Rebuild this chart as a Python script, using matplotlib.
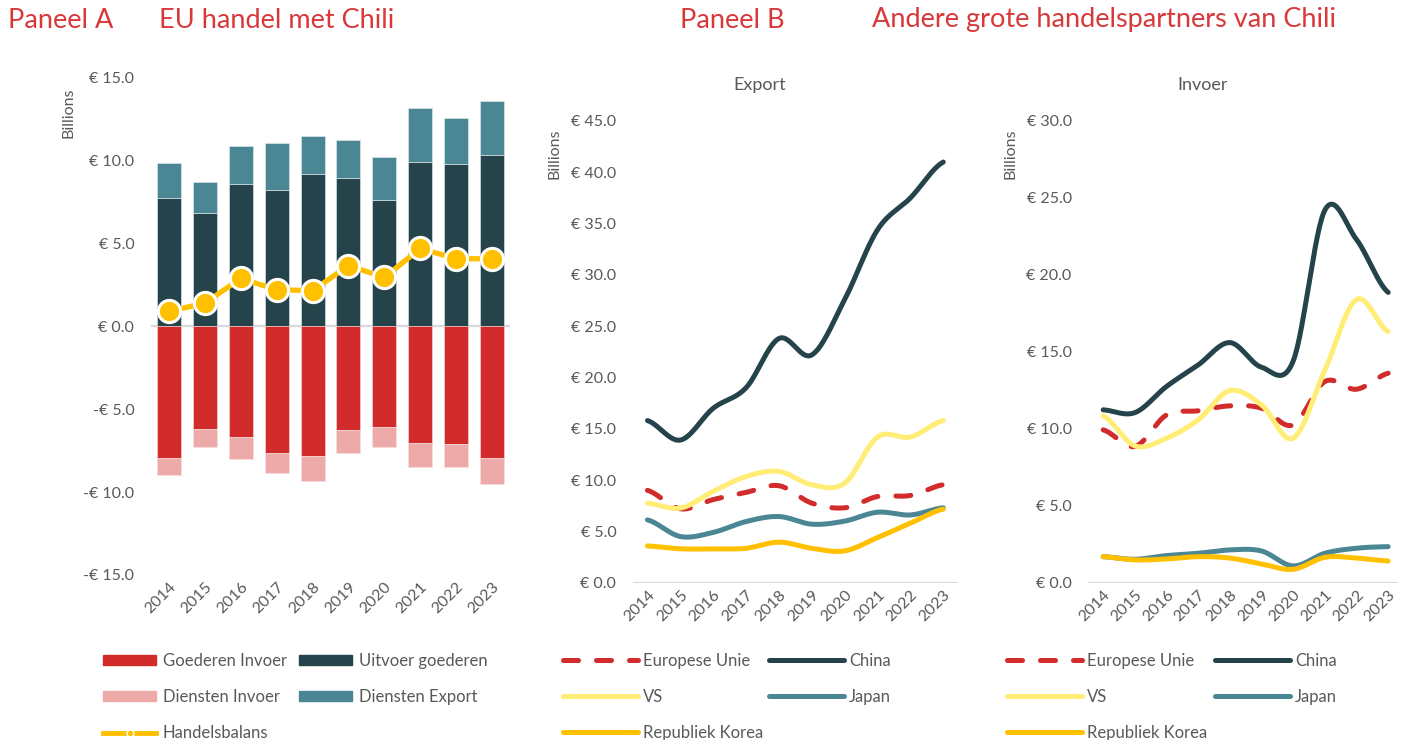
import numpy as np
import matplotlib
matplotlib.use("Agg")
import matplotlib.pyplot as plt
from matplotlib.patches import Patch
from matplotlib.lines import Line2D
from matplotlib.ticker import FuncFormatter, MultipleLocator

plt.rcParams['font.family'] = ['Lato', 'DejaVu Sans']

years = ['2014', '2015', '2016', '2017', '2018', '2019', '2020', '2021', '2022', '2023']

# Paneel A (miljarden euro)
goederen_uitvoer = [7.75, 6.83, 8.58, 8.21, 9.18, 8.94, 7.61, 9.90, 9.78, 10.33]
diensten_export = [2.12, 1.87, 2.33, 2.86, 2.29, 2.33, 2.62, 3.31, 2.78, 3.28]
goederen_invoer = [-7.93, -6.18, -6.70, -7.63, -7.81, -6.24, -6.06, -7.03, -7.07, -7.93]
diensten_invoer = [-1.01, -1.07, -1.31, -1.23, -1.53, -1.37, -1.23, -1.47, -1.39, -1.57]
handelsbalans = [0.91, 1.41, 2.90, 2.22, 2.16, 3.68, 2.96, 4.71, 4.09, 4.09]

# Paneel B export
exp_eu = [9.0, 7.2, 8.1, 8.8, 9.45, 7.75, 7.3, 8.4, 8.5, 9.55]
exp_china = [15.8, 13.9, 17.0, 19.0, 23.8, 22.2, 27.6, 34.4, 37.5, 41.0]
exp_vs = [7.75, 7.27, 8.9, 10.35, 10.84, 9.54, 9.7, 14.2, 14.2, 15.8]
exp_japan = [6.12, 4.5, 4.9, 5.96, 6.45, 5.7, 6.0, 6.87, 6.6, 7.3]
exp_korea = [3.58, 3.3, 3.3, 3.35, 3.95, 3.35, 3.1, 4.4, 5.8, 7.17]

# Paneel B invoer
inv_eu = [9.93, 8.85, 10.9, 11.17, 11.49, 11.34, 10.25, 13.07, 12.57, 13.61]
inv_china = [11.23, 11.05, 12.75, 14.15, 15.6, 14.0, 14.4, 24.2, 22.3, 18.86]
inv_vs = [10.84, 8.89, 9.39, 10.58, 12.48, 11.55, 9.39, 13.8, 18.4, 16.32]
inv_japan = [1.69, 1.52, 1.76, 1.91, 2.13, 2.06, 1.09, 1.91, 2.24, 2.34]
inv_korea = [1.69, 1.48, 1.54, 1.69, 1.6, 1.22, 0.87, 1.65, 1.6, 1.41]

RED = '#D22B2B'
PINK = '#EEA9A9'
DARK = '#25434A'
TEAL = '#4A8694'
YELLOW = '#FFED75'
GOLD = '#FFC000'
GREY = '#595959'
TITLE_RED = '#D9383A'


def smooth(y, n=30):
    # Excel-achtige smoothing (Catmull-Rom)
    y = np.asarray(y, dtype=float)
    pts = np.concatenate([[y[0]], y, [y[-1]]])
    xs, ys = [], []
    t = np.linspace(0, 1, n, endpoint=False)
    for i in range(len(y) - 1):
        p0, p1, p2, p3 = pts[i], pts[i + 1], pts[i + 2], pts[i + 3]
        c1 = p1 + (p2 - p0) / 6
        c2 = p2 - (p3 - p1) / 6
        yy = (1 - t)**3 * p1 + 3 * (1 - t)**2 * t * c1 + 3 * (1 - t) * t**2 * c2 + t**3 * p2
        xs.extend(i + t)
        ys.extend(yy)
    xs.append(len(y) - 1)
    ys.append(y[-1])
    return np.array(xs), np.array(ys)


def euro(v, pos):
    if v < 0:
        return f"-€ {abs(v):.1f}"
    return f"€ {v:.1f}"


def style_axis(ax):
    for s in ax.spines.values():
        s.set_visible(False)
    ax.axhline(0, color='#D9D9D9', lw=1.6, zorder=1)
    ax.yaxis.set_major_formatter(FuncFormatter(euro))
    ax.tick_params(axis='both', length=0, colors=GREY, labelsize=11.5)
    ax.tick_params(axis='y', pad=12)
    ax.set_xticks(range(len(years)))
    ax.set_xticklabels(years, rotation=45, ha='right', rotation_mode='anchor')


fig = plt.figure(figsize=(14.07, 7.4), dpi=100)

# ---- Paneel A ----
axA = fig.add_axes([0.1073, 0.2230, 0.2552, 0.6716])
x = np.arange(len(years))
w = 0.67
axA.bar(x, goederen_uitvoer, w, color=DARK, edgecolor='#e8eef0', lw=0.4, zorder=2)
axA.bar(x, diensten_export, w, bottom=goederen_uitvoer, color=TEAL, edgecolor='#e8eef0', lw=0.4, zorder=2)
axA.bar(x, goederen_invoer, w, color=RED, edgecolor='#f6e0e0', lw=0.4, zorder=2)
axA.bar(x, diensten_invoer, w, bottom=goederen_invoer, color=PINK, edgecolor='#f6e0e0', lw=0.4, zorder=2)
axA.plot(x, handelsbalans, color=GOLD, lw=3.8, marker='o', ms=16, mfc=GOLD, mec='white', mew=2.2, zorder=4)
axA.set_xlim(-0.5, 9.5)
axA.set_ylim(-15, 15)
axA.yaxis.set_major_locator(MultipleLocator(5))
style_axis(axA)

# ---- Paneel B: Export ----
axE = fig.add_axes([0.4499, 0.2126, 0.2308, 0.6239])
series_e = [(exp_eu, RED, 'Europese Unie', True), (exp_china, DARK, 'China', False),
            (exp_vs, YELLOW, 'VS', False), (exp_japan, TEAL, 'Japan', False),
            (exp_korea, GOLD, 'Republiek Korea', False)]
series_i = [(inv_eu, RED, 'Europese Unie', True), (inv_china, DARK, 'China', False),
            (inv_vs, YELLOW, 'VS', False), (inv_japan, TEAL, 'Japan', False),
            (inv_korea, GOLD, 'Republiek Korea', False)]

draw_order = [2, 4, 3, 0, 1]


def draw_lines(ax, series):
    for k in draw_order:
        vals, col, lab, dashed = series[k]
        sx, sy = smooth(vals)
        if dashed:
            ax.plot(sx, sy, color=col, lw=3.6, dashes=(3, 3.6), dash_capstyle='round', zorder=3 + k)
        else:
            ax.plot(sx, sy, color=col, lw=3.6, solid_capstyle='round', zorder=3 + k)


draw_lines(axE, series_e)
axE.set_xlim(-0.44, 9.44)
axE.set_ylim(0, 45)
axE.yaxis.set_major_locator(MultipleLocator(5))
style_axis(axE)

# ---- Paneel B: Invoer ----
axI = fig.add_axes([0.7735, 0.2126, 0.2203, 0.6239])
draw_lines(axI, series_i)
axI.set_xlim(-0.47, 9.32)
axI.set_ylim(0, 30)
axI.yaxis.set_major_locator(MultipleLocator(5))
style_axis(axI)

# y-as labels
for xp, yp in [(68, 113), (555, 154), (1010, 154)]:
    fig.text(xp / 1407, 1 - yp / 740, 'Billions', color=GREY, fontsize=11.5,
             rotation=90, ha='center', va='center')

fig.text(760 / 1407, 1 - 85 / 740, 'Export', color=GREY, fontsize=13, ha='center', va='center')
fig.text(1203 / 1407, 1 - 85 / 740, 'Invoer', color=GREY, fontsize=13, ha='center', va='center')

# titels
tfont = dict(color=TITLE_RED, fontsize=19.5, va='center')
fig.text(8 / 1407, 1 - 20 / 740, 'Paneel A', **tfont)
fig.text(159 / 1407, 1 - 20 / 740, 'EU handel met Chili', **tfont)
fig.text(680 / 1407, 1 - 20 / 740, 'Paneel B', **tfont)
fig.text(872 / 1407, 1 - 20 / 740, 'Andere grote handelspartners van Chili', **tfont)

# legendes
legA = [Patch(color=RED, label='Goederen Invoer'),
        Patch(color=PINK, label='Diensten Invoer'),
        Line2D([], [], color=GOLD, lw=3.5, marker='o', ms=5, mfc=GOLD, mec='white', label='Handelsbalans'),
        Patch(color=DARK, label='Uitvoer goederen'),
        Patch(color=TEAL, label='Diensten Export')]
leg_kw = dict(loc='upper left', frameon=False, fontsize=12, labelcolor=GREY,
              borderpad=0, borderaxespad=0, labelspacing=1.2)
fig.legend(handles=legA, bbox_to_anchor=(103 / 1407, 1 - 653 / 740), ncol=2,
           handlelength=3.2, handleheight=0.55, handletextpad=0.4, columnspacing=0.7, **leg_kw)


def line_handles(series):
    hs = []
    for vals, col, lab, dashed in series:
        if dashed:
            hs.append(Line2D([], [], color=col, lw=3.6, dashes=(3, 3.6), dash_capstyle='round', label=lab))
        else:
            hs.append(Line2D([], [], color=col, lw=3.6, solid_capstyle='round', label=lab))
    return [hs[0], hs[2], hs[4], hs[1], hs[3]]


fig.legend(handles=line_handles(series_e), bbox_to_anchor=(563 / 1407, 1 - 653 / 740), ncol=2,
           handlelength=4.5, handletextpad=0.3, columnspacing=0.35, **leg_kw)
fig.legend(handles=line_handles(series_i), bbox_to_anchor=(1007 / 1407, 1 - 653 / 740), ncol=2,
           handlelength=4.5, handletextpad=0.3, columnspacing=0.45, **leg_kw)

fig.savefig('out.png', dpi=100)
